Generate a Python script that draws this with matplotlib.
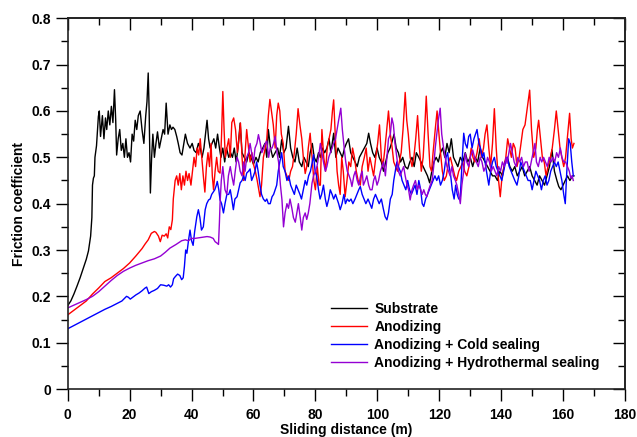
import matplotlib
matplotlib.use("Agg")
import matplotlib.pyplot as plt

plt.rcParams['font.family'] = ['Liberation Sans', 'DejaVu Sans']
plt.rcParams['font.weight'] = 'bold'

# Substrate
sub_x = [0, 1, 2, 3, 4, 5, 6, 6.7, 7.4, 7.8, 8.0, 8.3, 8.6, 8.8, 9.3, 9.9, 10.2, 10.6, 11.2, 11.7,
         12.2, 12.6, 13.1, 13.6, 14.1, 14.6, 15.1, 15.5, 15.8, 16.3, 16.8, 17.3, 17.8, 18.3, 18.8, 19.3,
         19.8, 20.3, 20.8, 21.3, 21.8, 22.3, 22.8, 23.4, 24.0, 24.6, 25.2, 25.6, 26.0, 26.3, 26.7, 27.1,
         27.5, 28.0, 28.5, 29.0, 29.6, 30.2, 30.8, 31.3, 31.8, 32.4, 33.0, 33.5, 34.0, 34.6, 35.2, 35.7,
         36.3, 36.9, 37.5, 38.0, 38.7, 39.5, 40.2, 40.8, 41.5, 42.2, 42.8, 43.4, 44.0, 44.6, 45.0, 45.5,
         46.0, 46.6, 47.2, 47.8, 48.4, 49.0, 49.5, 50.1, 50.7, 51.3, 52.0, 52.6, 53.2, 53.8, 54.4, 55.0,
         55.7, 56.3, 57.0, 57.8, 58.5, 59.2, 60.0, 60.8, 61.5, 62.2, 63.0, 63.7, 64.3, 64.8, 65.5, 66.2,
         67.0, 67.8, 68.4, 69.1, 69.8, 70.5, 71.3, 72.0, 72.7, 73.4, 74.1, 74.8, 75.6, 76.3, 77.0, 77.7,
         78.3, 79.0, 79.6, 80.3, 81.0, 81.6, 82.3, 83.0, 83.7, 84.4, 85.0, 85.9, 86.6, 87.3, 88.0, 88.7,
         89.4, 90.0, 90.7, 91.4, 92.1, 92.8, 93.5, 94.2, 95.0, 95.8, 96.6, 97.2, 97.8, 98.5, 99.2, 99.9,
         100.6, 101.3, 102.0, 102.7, 103.4, 104.1, 104.8, 105.4, 106.1, 106.8, 107.5, 108.2, 109.0, 109.8,
         110.5, 111.2, 111.9, 112.6, 113.4, 114.1, 114.8, 115.5, 116.2, 116.9, 117.6, 118.3, 119.0, 119.7,
         120.4, 121.1, 121.8, 122.5, 123.2, 123.9, 124.6, 125.3, 126.0, 126.8, 127.6, 128.4, 129.2, 130.0,
         130.8, 131.6, 132.4, 133.2, 134.0, 134.8, 135.6, 136.4, 137.2, 138.0, 138.8, 139.6, 140.4, 141.2,
         142.0, 142.8, 143.6, 144.4, 145.2, 146.0, 146.8, 147.6, 148.4, 149.2, 150.0, 150.8, 151.6, 152.4,
         153.2, 154.0, 154.8, 155.6, 156.4, 157.2, 158.0, 158.6, 159.3, 160.0, 160.7, 161.4, 162.2, 163.0,
         163.5]
sub_y = [0.18, 0.19, 0.205, 0.222, 0.24, 0.26, 0.28, 0.298, 0.33, 0.37, 0.44, 0.455, 0.46, 0.50, 0.525, 0.588, 0.60, 0.545, 0.59, 0.54,
         0.585, 0.56, 0.60, 0.57, 0.61, 0.575, 0.646, 0.58, 0.505, 0.54, 0.56, 0.515, 0.53, 0.50, 0.54, 0.50,
         0.51, 0.49, 0.55, 0.535, 0.58, 0.56, 0.59, 0.60, 0.56, 0.53, 0.59, 0.62, 0.682, 0.60, 0.423, 0.50,
         0.55, 0.50, 0.53, 0.555, 0.52, 0.54, 0.56, 0.55, 0.617, 0.55, 0.57, 0.56, 0.565, 0.56, 0.545, 0.53,
         0.51, 0.505, 0.53, 0.55, 0.53, 0.52, 0.53, 0.515, 0.51, 0.53, 0.52, 0.50, 0.52, 0.555, 0.58, 0.54,
         0.52, 0.53, 0.54, 0.52, 0.55, 0.52, 0.50, 0.52, 0.49, 0.52, 0.50, 0.51, 0.50, 0.52, 0.49, 0.52,
         0.574, 0.51, 0.50, 0.49, 0.51, 0.50, 0.485, 0.50, 0.49, 0.51, 0.52, 0.53, 0.50, 0.56, 0.52, 0.50,
         0.51, 0.52, 0.50, 0.538, 0.51, 0.52, 0.567, 0.52, 0.50, 0.49, 0.52, 0.49, 0.48, 0.50, 0.49, 0.48,
         0.51, 0.53, 0.50, 0.49, 0.51, 0.50, 0.52, 0.51, 0.52, 0.54, 0.51, 0.552, 0.50, 0.52, 0.51, 0.50,
         0.52, 0.53, 0.54, 0.51, 0.50, 0.49, 0.48, 0.50, 0.51, 0.52, 0.53, 0.552, 0.53, 0.51, 0.50, 0.52,
         0.50, 0.49, 0.47, 0.49, 0.51, 0.52, 0.535, 0.55, 0.52, 0.51, 0.49, 0.50, 0.48, 0.475,
         0.49, 0.50, 0.48, 0.51, 0.50, 0.49, 0.48, 0.47, 0.46, 0.445, 0.47, 0.49, 0.50, 0.49,
         0.51, 0.52, 0.50, 0.53, 0.51, 0.54, 0.50, 0.49, 0.48, 0.50, 0.49, 0.51, 0.49, 0.50,
         0.48, 0.50, 0.49, 0.52, 0.50, 0.49, 0.48, 0.47, 0.46, 0.46, 0.45, 0.47, 0.46, 0.49,
         0.50, 0.48, 0.47, 0.48, 0.46, 0.47, 0.48, 0.46, 0.47, 0.48, 0.46, 0.45, 0.44, 0.46,
         0.45, 0.44, 0.46, 0.48, 0.516, 0.47, 0.45, 0.437, 0.43, 0.44, 0.45, 0.46, 0.45, 0.46,
         0.46]

# Anodizing
ano_x = [0, 2, 4, 6, 8, 10, 12, 14, 16, 18, 20, 22, 24, 25, 26, 27, 28, 28.5, 29.3, 29.9, 30.5, 31.2,
         31.8, 32.3, 32.8, 33.3, 33.8, 34.1, 34.7, 35.2, 35.7, 36.2, 36.7, 37.2, 37.7, 38.2, 38.7, 39.2,
         39.8, 40.3, 40.8, 41.3, 41.8, 42.3, 42.8, 43.3, 43.8, 44.3, 44.8, 45.3, 45.8, 46.3, 46.7, 47.1,
         47.6, 48.1, 48.6, 49.2, 49.7, 50.1, 50.5, 50.9, 51.4, 52.0, 52.5, 53.0, 53.6, 54.2, 54.8, 55.3,
         55.8, 56.3, 56.8, 57.3, 57.8, 58.4, 58.9, 59.5, 60.0, 60.6, 61.2, 61.7, 62.1, 62.6, 63.2, 63.8,
         64.3, 64.8, 65.3, 65.8, 66.4, 67.0, 67.5, 68.0, 68.5, 69.0, 69.6, 70.2, 70.8, 71.4, 72.0, 72.6,
         73.2, 73.8, 74.4, 75.0, 75.6, 76.1, 76.7, 77.2, 77.7, 78.3, 78.9, 79.5, 80.0, 80.6, 81.2, 81.6,
         82.1, 82.7, 83.3, 83.8, 84.4, 85.0, 85.5, 85.9, 86.4, 87.0, 87.5, 88.0, 88.5, 89.0, 89.6, 90.2,
         90.8, 91.4, 92.0, 92.6, 93.2, 93.8, 94.5, 95.1, 95.8, 96.4, 97.0, 97.6, 98.2, 98.8, 99.5, 100.1,
         100.7, 101.3, 101.8, 102.3, 102.9, 103.6, 104.2, 104.8, 105.3, 105.9, 106.5, 107.1, 107.7, 108.3,
         109.0, 109.5, 110.0, 110.6, 111.2, 111.8, 112.4, 113.0, 113.6, 114.2, 114.8, 115.3, 115.8, 116.4,
         117.0, 117.5, 118.0, 118.7, 119.3, 119.9, 120.4, 121.0, 121.6, 122.3, 123.0, 123.6, 124.3, 125.0,
         125.6, 126.3, 127.0, 127.6, 128.2, 128.9, 129.6, 130.3, 130.9, 131.5, 132.2, 132.9, 133.6, 134.3,
         134.8, 135.4, 136.0, 136.6, 137.2, 137.8, 138.4, 139.0, 139.7, 140.3, 140.9, 141.5, 142.1, 142.7,
         143.3, 143.9, 144.5, 145.1, 145.8, 146.4, 147.0, 147.7, 148.3, 149.2, 149.8, 150.5, 151.2, 151.7,
         152.1, 152.7, 153.3, 153.9, 154.5, 155.1, 155.9, 156.5, 157.2, 157.8, 158.4, 159.0, 159.6, 160.2,
         160.8, 161.5, 162.1, 162.6, 163.0, 163.5]
ano_y = [0.16, 0.17, 0.18, 0.19, 0.205, 0.218, 0.232, 0.24, 0.25, 0.26, 0.272, 0.287, 0.303, 0.313, 0.322, 0.336, 0.34, 0.338, 0.33, 0.318, 0.332, 0.33,
         0.335, 0.326, 0.35, 0.344, 0.365, 0.41, 0.45, 0.46, 0.44, 0.465, 0.43, 0.46, 0.44, 0.47, 0.45, 0.465,
         0.44, 0.47, 0.50, 0.48, 0.52, 0.505, 0.54, 0.50, 0.46, 0.425, 0.48, 0.51, 0.48, 0.53, 0.46, 0.43,
         0.47, 0.50, 0.47, 0.466, 0.55, 0.642, 0.56, 0.50, 0.52, 0.54, 0.50, 0.575, 0.585, 0.56, 0.51, 0.54,
         0.574, 0.50, 0.45, 0.51, 0.56, 0.52, 0.49, 0.51, 0.485, 0.47, 0.45, 0.43, 0.415, 0.44, 0.50, 0.52,
         0.54, 0.59, 0.625, 0.60, 0.57, 0.52, 0.59, 0.617, 0.60, 0.55, 0.53, 0.47, 0.46, 0.45, 0.47, 0.48,
         0.51, 0.55, 0.605, 0.57, 0.54, 0.50, 0.465, 0.48, 0.52, 0.552, 0.50, 0.45, 0.43, 0.48, 0.44, 0.44,
         0.56, 0.50, 0.47, 0.52, 0.54, 0.56, 0.60, 0.624, 0.55, 0.47, 0.44, 0.42, 0.50, 0.47, 0.415, 0.45,
         0.49, 0.48, 0.52, 0.50, 0.47, 0.45, 0.44, 0.48, 0.50, 0.52, 0.47, 0.50, 0.48, 0.46, 0.50, 0.53,
         0.57, 0.50, 0.48, 0.51, 0.55, 0.60, 0.55, 0.52, 0.49, 0.48, 0.47, 0.49, 0.51, 0.56,
         0.64, 0.58, 0.55, 0.50, 0.48, 0.50, 0.54, 0.59, 0.52, 0.47, 0.50, 0.56, 0.632, 0.55,
         0.48, 0.47, 0.51, 0.56, 0.60, 0.55, 0.51, 0.47, 0.45, 0.46, 0.49, 0.50, 0.48, 0.46,
         0.45, 0.47, 0.48, 0.49, 0.47, 0.46, 0.48, 0.52, 0.50, 0.49, 0.51, 0.54, 0.50, 0.52,
         0.55, 0.57, 0.52, 0.48, 0.53, 0.605, 0.52, 0.46, 0.415, 0.46, 0.48, 0.50, 0.54, 0.52,
         0.50, 0.53, 0.52, 0.48, 0.50, 0.53, 0.56, 0.57, 0.60, 0.645, 0.56, 0.50, 0.52, 0.56,
         0.58, 0.54, 0.50, 0.49, 0.46, 0.48, 0.50, 0.52, 0.56, 0.60, 0.56, 0.52, 0.50, 0.48,
         0.50, 0.55, 0.595, 0.54, 0.52, 0.53]

# Anodizing + Cold sealing
cold_x = [0, 2, 4, 6, 8, 10, 12, 14, 16, 17.5, 19, 19.6, 20.2, 21, 22, 23, 24, 25, 25.5, 26.2, 27, 28,
          29, 30, 31, 32, 32.6, 33.2, 33.8, 34.2, 34.8, 35.5, 36.2, 36.8, 37.3, 37.7, 38.1, 38.5, 39.0, 39.5,
          40.0, 40.5, 41.0, 41.7, 42.2, 42.7, 43.2, 43.8, 44.4, 44.9, 45.5, 46.0, 46.5, 47.0, 47.5, 48.0,
          48.3, 48.8, 49.2, 49.7, 50.3, 50.8, 51.4, 52.0, 52.5, 53.0, 53.5, 54.0, 54.7, 55.2, 55.7, 56.3,
          56.8, 57.3, 57.8, 58.4, 58.9, 59.4, 60.0, 60.5, 61.0, 61.5, 62.1, 62.6, 63.2, 63.8, 64.3, 64.8,
          65.4, 66.0, 66.5, 67.0, 67.5, 68.0, 68.5, 69.1, 69.6, 70.2, 70.8, 71.4, 72.0, 72.6, 73.2, 73.8,
          74.4, 75.0, 75.5, 76.1, 76.7, 77.2, 77.8, 78.4, 79.0, 79.4, 79.9, 80.4, 81.0, 81.5, 82.0, 82.6,
          83.2, 83.7, 84.3, 84.8, 85.4, 85.9, 86.5, 87.0, 87.5, 88.0, 88.6, 89.2, 89.7, 90.3, 90.9, 91.5,
          92.1, 92.8, 93.4, 94.0, 94.5, 95.1, 95.7, 96.3, 97.0, 97.6, 98.2, 98.8, 99.4, 100.0, 100.6, 101.3,
          101.9, 102.5, 103.1, 103.6, 104.2, 104.8, 105.3, 105.8, 106.3, 106.8, 107.4, 108.0, 108.6, 109.2,
          109.8, 110.4, 111.0, 111.6, 112.2, 112.8, 113.4, 114.0, 114.5, 115.0, 115.6, 116.2, 116.8, 117.4,
          118.0, 118.6, 119.2, 119.8, 120.4, 121.0, 121.6, 122.2, 122.7, 123.2, 123.7, 124.2, 124.8, 125.3,
          125.8, 126.3, 126.8, 127.3, 127.9, 128.4, 129.0, 129.5, 130.0, 130.6, 131.2, 131.7, 132.2, 132.8,
          133.3, 133.9, 134.4, 135.0, 135.5, 136.0, 136.6, 137.2, 137.8, 138.4, 139.0, 139.6, 140.2, 140.8,
          141.4, 142.0, 142.6, 143.2, 143.8, 144.4, 145.1, 145.7, 146.3, 146.9, 147.5, 148.1, 148.7, 149.4,
          150.0, 150.6, 151.2, 151.8, 152.4, 153.0, 153.6, 154.2, 154.8, 155.4, 156.0, 156.6, 157.2, 157.8,
          158.4, 159.0, 159.6, 160.2, 160.7, 161.2, 161.8, 162.3, 162.8, 163.3]
cold_y = [0.13, 0.137, 0.144, 0.151, 0.158, 0.165, 0.172, 0.178, 0.185, 0.19, 0.2, 0.198, 0.194, 0.198, 0.203, 0.207, 0.212, 0.218, 0.22, 0.206, 0.21, 0.213,
          0.217, 0.225, 0.224, 0.222, 0.225, 0.22, 0.225, 0.238, 0.243, 0.248, 0.245, 0.236, 0.24, 0.265, 0.30, 0.293, 0.32, 0.343,
          0.32, 0.31, 0.34, 0.372, 0.387, 0.37, 0.343, 0.35, 0.387, 0.40, 0.408, 0.41, 0.42, 0.425, 0.43, 0.44,
          0.448, 0.43, 0.408, 0.40, 0.38, 0.40, 0.42, 0.42, 0.43, 0.41, 0.387, 0.41, 0.415, 0.43, 0.445, 0.45,
          0.46, 0.45, 0.466, 0.47, 0.475, 0.45, 0.46, 0.47, 0.49, 0.47, 0.44, 0.42, 0.41, 0.405, 0.41, 0.40,
          0.40, 0.415, 0.42, 0.43, 0.44, 0.47, 0.49, 0.51, 0.48, 0.47, 0.45, 0.46, 0.44, 0.43, 0.42, 0.44,
          0.43, 0.42, 0.41, 0.43, 0.45, 0.44, 0.46, 0.47, 0.49, 0.506, 0.47, 0.46, 0.43, 0.41, 0.42, 0.44,
          0.41, 0.394, 0.41, 0.43, 0.42, 0.41, 0.42, 0.41, 0.40, 0.387, 0.40, 0.42, 0.40, 0.41, 0.405, 0.41,
          0.40, 0.41, 0.42, 0.43, 0.437, 0.42, 0.41, 0.40, 0.41, 0.40, 0.39, 0.41, 0.42, 0.41, 0.40, 0.41,
          0.39, 0.372, 0.365, 0.38, 0.41, 0.42, 0.45, 0.47, 0.49, 0.48, 0.47, 0.45, 0.44, 0.43,
          0.45, 0.43, 0.42, 0.43, 0.44, 0.42, 0.45, 0.43, 0.40, 0.394, 0.41, 0.42, 0.43, 0.44,
          0.45, 0.46, 0.45, 0.46, 0.44, 0.45, 0.47, 0.50, 0.51, 0.48, 0.46, 0.43, 0.41, 0.44,
          0.42, 0.41, 0.415, 0.48, 0.552, 0.53, 0.52, 0.545, 0.55, 0.52, 0.54, 0.55, 0.56, 0.53,
          0.52, 0.50, 0.51, 0.48, 0.46, 0.44, 0.47, 0.49, 0.50, 0.48, 0.47, 0.46, 0.45, 0.47,
          0.49, 0.50, 0.48, 0.47, 0.46, 0.45, 0.44, 0.46, 0.49, 0.48, 0.47, 0.46, 0.45, 0.45,
          0.43, 0.45, 0.47, 0.46, 0.45, 0.43, 0.45, 0.46, 0.44, 0.45, 0.47, 0.48, 0.49, 0.48,
          0.49, 0.47, 0.45, 0.42, 0.40, 0.47, 0.54, 0.53, 0.49, 0.46]

# Anodizing + Hydrothermal sealing
hyd_x = [0, 2, 4, 6, 8, 10, 12, 14, 16, 18, 20, 22, 24, 26, 28, 30, 31.5, 33, 35, 36.8, 38, 39, 40,
         41, 42, 43, 44, 45, 46, 47, 47.6, 48.2, 48.7, 49.0, 49.2, 49.6, 50.1, 50.5, 50.8, 51.4, 51.9,
         52.5, 53.0, 53.6, 54.1, 54.7, 55.2, 55.7, 56.3, 56.8, 57.3, 57.8, 58.4, 58.9, 59.4, 60.0, 60.5,
         61.1, 61.6, 62.2, 62.7, 63.3, 63.8, 64.3, 64.9, 65.4, 66.0, 66.5, 67.0, 67.6, 68.1, 68.7, 69.2,
         69.7, 70.2, 70.8, 71.3, 71.8, 72.4, 72.9, 73.5, 74.0, 74.5, 75.1, 75.6, 76.1, 76.7, 77.2, 77.7,
         78.2, 78.9, 79.4, 80.0, 80.5, 81.0, 81.6, 82.1, 82.6, 83.2, 83.7, 84.3, 84.8, 85.4, 85.9, 86.5,
         87.0, 87.5, 88.2, 88.7, 89.3, 89.8, 90.3, 90.9, 91.4, 91.8, 92.4, 92.9, 93.5, 94.0, 94.6, 95.1,
         95.5, 96.1, 96.6, 97.2, 97.7, 98.3, 98.8, 99.3, 99.9, 100.4, 101.0, 101.5, 102.0, 102.6, 103.1,
         103.6, 104.2, 104.7, 105.2, 105.7, 106.3, 106.8, 107.4, 107.9, 108.5, 109.0, 109.6, 110.1, 110.6,
         111.2, 111.7, 112.3, 112.9, 113.4, 114.0, 114.5, 115.0, 115.5, 116.0, 116.6, 117.1, 117.7, 118.2,
         118.7, 119.2, 119.7, 120.3, 120.8, 121.4, 121.9, 122.5, 123.0, 123.5, 124.1, 124.6, 125.2, 125.7,
         126.3, 126.8, 127.3, 127.9, 128.4, 128.9, 129.5, 130.0, 130.8, 131.4, 132.0, 132.6, 133.2, 133.8,
         134.4, 135.0, 135.6, 136.2, 136.8, 137.4, 138.0, 138.6, 139.2, 139.8, 140.4, 141.0, 141.6, 141.9,
         142.5, 143.0, 143.6, 144.2, 144.8, 145.4, 146.0, 146.6, 147.2, 147.8, 148.4, 149.0, 149.4, 150.0,
         150.9, 151.4, 152.0, 152.6, 153.1, 153.7, 154.3, 154.9, 155.5, 156.1, 156.7, 157.3, 157.9, 158.5,
         159.1, 159.6, 160.2, 160.8, 161.4, 162.0, 162.5, 162.9, 163.3]
hyd_y = [0.175, 0.181, 0.187, 0.193, 0.20, 0.21, 0.222, 0.234, 0.245, 0.254, 0.261, 0.267, 0.272, 0.277, 0.281, 0.287, 0.295, 0.304, 0.312, 0.32, 0.322, 0.32, 0.325,
         0.325, 0.326, 0.327, 0.328, 0.329, 0.328, 0.325, 0.318, 0.315, 0.312, 0.36, 0.40, 0.45, 0.48, 0.45, 0.43, 0.42, 0.46,
         0.48, 0.46, 0.44, 0.47, 0.50, 0.49, 0.47, 0.46, 0.49, 0.47, 0.50, 0.51, 0.53, 0.51, 0.49, 0.52,
         0.53, 0.549, 0.53, 0.51, 0.52, 0.53, 0.535, 0.50, 0.52, 0.52, 0.53, 0.545, 0.51, 0.49, 0.44, 0.408,
         0.35, 0.38, 0.40, 0.39, 0.41, 0.39, 0.37, 0.36, 0.38, 0.40, 0.37, 0.343, 0.37, 0.38, 0.366, 0.38,
         0.40, 0.444, 0.46, 0.47, 0.48, 0.50, 0.53, 0.51, 0.49, 0.47, 0.48, 0.50, 0.51, 0.52, 0.53, 0.54,
         0.56, 0.58, 0.606, 0.56, 0.52, 0.49, 0.47, 0.46, 0.45, 0.437, 0.46, 0.47, 0.45, 0.44, 0.46, 0.47,
         0.44, 0.45, 0.46, 0.44, 0.43, 0.43, 0.45, 0.46, 0.44, 0.45, 0.47, 0.48, 0.49, 0.46, 0.50,
         0.54, 0.55, 0.585, 0.57, 0.53, 0.50, 0.47, 0.46, 0.47, 0.48, 0.46, 0.44, 0.43, 0.408,
         0.43, 0.44, 0.45, 0.43, 0.44, 0.43, 0.42, 0.43, 0.42, 0.415, 0.43, 0.44, 0.45, 0.48,
         0.52, 0.55, 0.58, 0.606, 0.55, 0.52, 0.50, 0.48, 0.47, 0.46, 0.48, 0.46, 0.45, 0.44,
         0.42, 0.40, 0.44, 0.47, 0.509, 0.49, 0.48, 0.50, 0.516, 0.50, 0.49, 0.48, 0.50, 0.49,
         0.47, 0.48, 0.50, 0.49, 0.47, 0.48, 0.47, 0.46, 0.48, 0.47, 0.49, 0.48, 0.50, 0.487,
         0.51, 0.53, 0.51, 0.49, 0.48, 0.50, 0.49, 0.50, 0.48, 0.49, 0.49, 0.47, 0.48, 0.50,
         0.53, 0.49, 0.48, 0.50, 0.49, 0.50, 0.49, 0.48, 0.50, 0.49, 0.50, 0.49, 0.51, 0.50,
         0.52, 0.50, 0.49, 0.49, 0.48, 0.47, 0.455, 0.46, 0.45]

labels = ["Substrate", "Anodizing", "Anodizing + Cold sealing", "Anodizing + Hydrothermal sealing"]
colors = ["black", "#ff0000", "#0000ff", "#9400d3"]

fig = plt.figure(figsize=(6.37, 4.37), dpi=100)
ax = fig.add_axes([0.1063, 0.1098, 0.8749, 0.8483])

series = [(sub_x, sub_y), (ano_x, ano_y), (cold_x, cold_y), (hyd_x, hyd_y)]
for (xs, ys), lab, c in zip(series, labels, colors):
    ax.plot(xs, ys, color=c, lw=1.0, label=lab)

ax.set_xlim(0, 180)
ax.set_ylim(0, 0.8)
ax.set_xticks(range(0, 181, 20))
ax.set_xticks(range(10, 180, 20), minor=True)
ax.set_yticks([i / 10 for i in range(9)])
ax.set_yticks([i / 10 + 0.05 for i in range(8)], minor=True)
ax.set_yticklabels(["0"] + ["%.1f" % (i / 10) for i in range(1, 9)])

ax.tick_params(which='major', direction='out', length=8.5, width=1.0, labelsize=10, colors='black')
ax.tick_params(axis='x', which='major', pad=5)
ax.tick_params(which='minor', direction='out', length=4.8, width=1.0)
for lbl in ax.get_xticklabels() + ax.get_yticklabels():
    lbl.set_fontweight('bold')

# top and right ticks point inward, no labels
top = ax.secondary_xaxis('top')
top.set_xticks(range(0, 181, 20))
top.set_xticks(range(10, 180, 20), minor=True)
top.tick_params(which='major', direction='in', length=8.5, width=1.0, labeltop=False)
top.tick_params(which='minor', direction='in', length=4.8, width=1.0)
right = ax.secondary_yaxis('right')
right.set_yticks([i / 10 for i in range(9)])
right.set_yticks([i / 10 + 0.05 for i in range(8)], minor=True)
right.tick_params(which='major', direction='in', length=8.5, width=1.0, labelright=False)
right.tick_params(which='minor', direction='in', length=4.8, width=1.0)

for s in list(ax.spines.values()) + [top.spines['top'], right.spines['right']]:
    s.set_linewidth(1.2)
    s.set_color('#222222')

ax.set_xlabel("Sliding distance (m)", fontsize=10, fontweight='bold', labelpad=1)
ax.set_ylabel("Friction coefficient", fontsize=10, fontweight='bold', labelpad=4)

leg = ax.legend(loc='upper left', bbox_to_anchor=(0.473, 0.236), frameon=False,
                fontsize=10, handlelength=2.6, handletextpad=0.5, labelspacing=0.3,
                borderpad=0, borderaxespad=0)
for t in leg.get_texts():
    t.set_fontweight('bold')

fig.savefig("out.png", dpi=100)
